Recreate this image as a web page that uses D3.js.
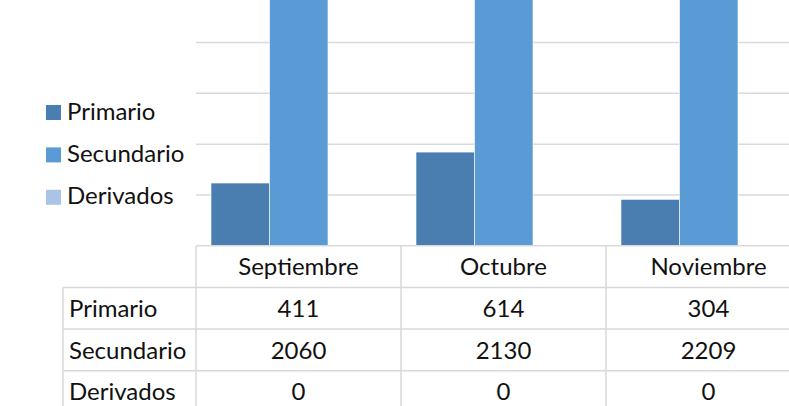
<!DOCTYPE html>
<html>
<head>
<meta charset="utf-8">
<script src="https://cdn.jsdelivr.net/npm/d3@7"></script>
<style>
  body { margin: 0; background: #fff; }
  svg { display: block; font-family: Lato, "Liberation Sans", sans-serif; }
</style>
</head>
<body>
<div class="chart"></div>
<script>
// data
let months = ['Septiembre', 'Octubre', 'Noviembre'];
let seriesNames = ['Primario', 'Secundario', 'Derivados'];
let primario = [411, 614, 304];
let secundario = [2060, 2130, 2209];
let derivados = [0, 0, 0];
let seriesColors = ['#4a7eb0', '#5b9bd5', '#a9c4e6'];
let gridStep = 333;

let values = [primario, secundario, derivados];

let width = 789, height = 406;
let plotLeft = 196, catWidth = 205, baseline = 245.7;
let rowH = 41.7, labelLeft = 63;

let svg = d3.select('.chart').append('svg')
    .attr('width', width)
    .attr('height', height);

/////// SCALES ///////////////////////////////////////

let x0 = d3.scaleBand()
    .domain(months)
    .range([plotLeft, plotLeft + catWidth * months.length]);

let x1 = d3.scaleBand()
    .domain(seriesNames)
    .range([15, 190.5]);

let y = d3.scaleLinear()
    .domain([0, 2500])
    .range([baseline, baseline - 2500 * 0.1525]);

/////// GRID ///////////////////////////////////////

svg.append('g')
  .selectAll('line')
  .data(d3.range(gridStep, 2500, gridStep))
  .enter().append('line')
    .attr('x1', plotLeft)
    .attr('x2', width)
    .attr('y1', d => y(d))
    .attr('y2', d => y(d))
    .attr('stroke', '#d9d9d9')
    .attr('stroke-width', 1.5);

/////// BARS ///////////////////////////////////////

let groups = svg.append('g')
  .selectAll('g')
  .data(months)
  .enter().append('g')
    .attr('transform', d => `translate(${x0(d)},0)`);

groups.selectAll('rect')
  .data((m, i) => seriesNames.map((s, j) => ({ s: s, v: values[j][i], c: seriesColors[j] })))
  .enter().append('rect')
    .attr('x', d => x1(d.s))
    .attr('width', x1.bandwidth())
    .attr('y', d => y(d.v))
    .attr('height', d => y(0) - y(d.v))
    .attr('fill', d => d.c)
    .attr('stroke', '#fff')
    .attr('stroke-width', 0.6);

/////// TABLE ///////////////////////////////////////

let table = svg.append('g')
    .attr('stroke', '#d9d9d9')
    .attr('stroke-width', 1.5);

let tableRight = plotLeft + catWidth * months.length;

// header row lines
table.append('line')
    .attr('x1', plotLeft).attr('x2', tableRight)
    .attr('y1', baseline).attr('y2', baseline);
// body row lines
d3.range(seriesNames.length + 1).forEach(i => {
  table.append('line')
      .attr('x1', labelLeft).attr('x2', tableRight)
      .attr('y1', baseline + rowH * (i + 1)).attr('y2', baseline + rowH * (i + 1));
});
// column lines
months.forEach(m => {
  table.append('line')
      .attr('x1', x0(m)).attr('x2', x0(m))
      .attr('y1', baseline).attr('y2', baseline + rowH * 4);
});
table.append('line')
    .attr('x1', labelLeft).attr('x2', labelLeft)
    .attr('y1', baseline + rowH).attr('y2', baseline + rowH * 4);

let fontSize = 24;

svg.append('g')
  .selectAll('text')
  .data(months)
  .enter().append('text')
    .attr('x', d => x0(d) + catWidth / 2)
    .attr('y', baseline + 29.5)
    .attr('text-anchor', 'middle')
    .attr('font-size', fontSize)
    .attr('fill', '#111')
    .text(d => d);

seriesNames.forEach((s, j) => {
  let rowY = baseline + rowH * (j + 1) + 29.5;
  svg.append('text')
      .attr('x', 69)
      .attr('y', rowY)
      .attr('font-size', fontSize)
      .attr('fill', '#111')
      .text(s);
  svg.append('g')
    .selectAll('text')
    .data(values[j])
    .enter().append('text')
      .attr('x', (d, i) => x0(months[i]) + catWidth / 2)
      .attr('y', rowY)
      .attr('text-anchor', 'middle')
      .attr('font-size', fontSize)
      .attr('fill', '#111')
      .text(d => d);
});

/////// LEGEND ///////////////////////////////////////

let legend = svg.append('g')
  .selectAll('g')
  .data(seriesNames)
  .enter().append('g')
    .attr('transform', (d, i) => `translate(46,${105 + i * 42.4})`);

legend.append('rect')
    .attr('width', 15)
    .attr('height', 15)
    .attr('fill', (d, i) => seriesColors[i]);

legend.append('text')
    .attr('x', 21)
    .attr('y', 14.5)
    .attr('font-size', fontSize)
    .attr('fill', '#111')
    .text(d => d);
</script>
</body>
</html>
